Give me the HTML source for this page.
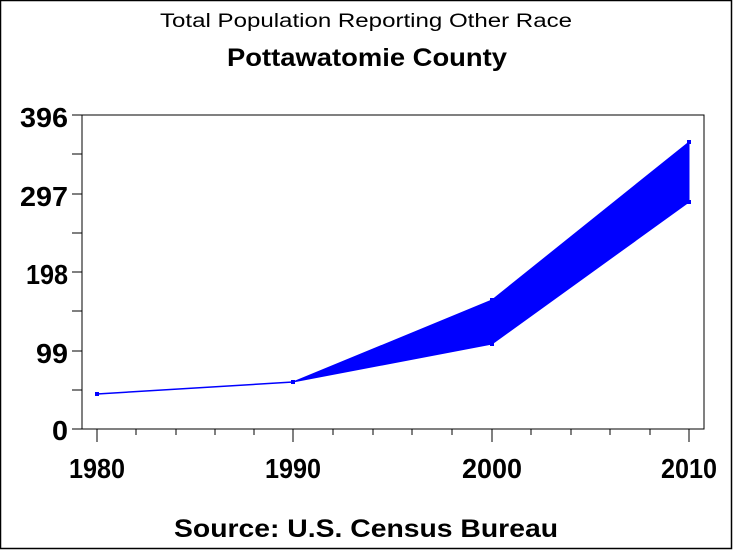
<!DOCTYPE html>
<html><head><style>body{margin:0;background:#fff}svg{display:block}</style></head><body>
<svg width="733" height="550" xmlns="http://www.w3.org/2000/svg" font-family="Liberation Sans, Arial, sans-serif">
<rect x="0.5" y="0.5" width="731" height="548" fill="#fff" stroke="#000" stroke-width="1.5"/>
<text x="366" y="27" font-size="19" text-anchor="middle" textLength="412" lengthAdjust="spacingAndGlyphs">Total Population Reporting Other Race</text>
<text x="367" y="66" font-size="25" font-weight="bold" text-anchor="middle" textLength="280" lengthAdjust="spacingAndGlyphs">Pottawatomie County</text>
<rect x="82" y="115" width="622" height="314" fill="none" stroke="#000" stroke-width="1"/>
<g stroke="#000" stroke-width="1">
<line x1="72" y1="115" x2="82" y2="115"/><line x1="72" y1="154" x2="82" y2="154"/>
<line x1="72" y1="194" x2="82" y2="194"/><line x1="72" y1="233" x2="82" y2="233"/>
<line x1="72" y1="272" x2="82" y2="272"/><line x1="72" y1="311" x2="82" y2="311"/>
<line x1="72" y1="351" x2="82" y2="351"/><line x1="72" y1="390" x2="82" y2="390"/>
<line x1="72" y1="429" x2="82" y2="429"/>
<line x1="97" y1="429" x2="97" y2="442"/><line x1="293" y1="429" x2="293" y2="442"/>
<line x1="492" y1="429" x2="492" y2="442"/><line x1="689" y1="429" x2="689" y2="442"/>
<line x1="136" y1="429" x2="136" y2="435"/><line x1="176" y1="429" x2="176" y2="435"/>
<line x1="215" y1="429" x2="215" y2="435"/><line x1="254" y1="429" x2="254" y2="435"/>
<line x1="333" y1="429" x2="333" y2="435"/><line x1="373" y1="429" x2="373" y2="435"/>
<line x1="412" y1="429" x2="412" y2="435"/><line x1="452" y1="429" x2="452" y2="435"/>
<line x1="531" y1="429" x2="531" y2="435"/><line x1="571" y1="429" x2="571" y2="435"/>
<line x1="610" y1="429" x2="610" y2="435"/><line x1="650" y1="429" x2="650" y2="435"/>
</g>
<g font-size="28" font-weight="bold" text-anchor="end">
<text x="68" y="127" textLength="48" lengthAdjust="spacingAndGlyphs">396</text>
<text x="68" y="206" textLength="48" lengthAdjust="spacingAndGlyphs">297</text>
<text x="68" y="284" textLength="42" lengthAdjust="spacingAndGlyphs">198</text>
<text x="68" y="363" textLength="32" lengthAdjust="spacingAndGlyphs">99</text>
<text x="68" y="440" textLength="16" lengthAdjust="spacingAndGlyphs">0</text>
</g>
<g font-size="28" font-weight="bold" text-anchor="middle">
<text x="97" y="478" textLength="56" lengthAdjust="spacingAndGlyphs">1980</text>
<text x="293" y="478" textLength="56" lengthAdjust="spacingAndGlyphs">1990</text>
<text x="492" y="478" textLength="60" lengthAdjust="spacingAndGlyphs">2000</text>
<text x="689" y="478" textLength="56" lengthAdjust="spacingAndGlyphs">2010</text>
</g>
<polygon points="293,382 492,300 689,142 689,202 492,344 293,382" fill="#0000ff" stroke="#0000ff"/>
<polyline points="97,394 293,382" fill="none" stroke="#0000ff" stroke-width="1.5"/>
<g fill="#0000ff">
<rect x="95" y="392" width="4" height="4"/><rect x="291" y="380" width="4" height="4"/>
<rect x="490" y="298" width="4" height="4"/><rect x="490" y="342" width="4" height="4"/>
<rect x="687" y="140" width="4" height="4"/><rect x="687" y="200" width="4" height="4"/>
</g>
<text x="366" y="537" font-size="25" font-weight="bold" text-anchor="middle" textLength="384" lengthAdjust="spacingAndGlyphs">Source: U.S. Census Bureau</text>
</svg>
</body></html>
